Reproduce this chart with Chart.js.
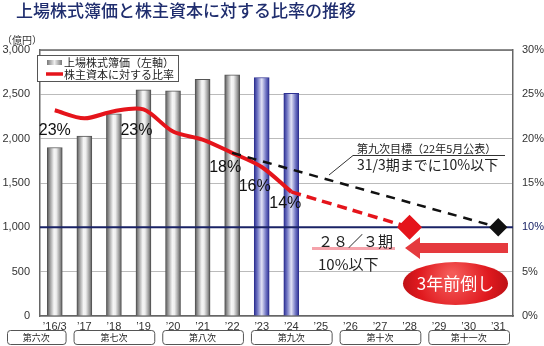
<!DOCTYPE html>
<html><head><meta charset="utf-8">
<script src="https://cdn.jsdelivr.net/npm/chart.js@4/dist/chart.umd.min.js"></script>
<style>html,body{margin:0;padding:0;background:#fff;}#wrap{width:544px;height:346px;position:relative;}</style>
</head><body><div id="wrap"><canvas id="c" width="544" height="346"></canvas></div>
<script>
// ---- data ----
const chartTitle = '上場株式簿価と株主資本に対する比率の推移';
const categories = ['’16/3','’17','’18','’19','’20','’21','’22','’23','’24','’25','’26','’27','’28','’29','’30','’31'];
const bookValue = [1900,2030,2280,2550,2540,2670,2720,2690,2510,null,null,null,null,null,null,null];
const ratioActual = [23.2,22.3,23.1,23.3,20.8,19.9,18.4,16.8,14.0,null,null,null,null,null,null,null];
const ratioNewPlan = [null,null,null,null,null,null,null,null,14.0,null,null,null,10.0,null,null,null];
const ratioOldTarget = [null,null,null,null,null,null,18.4,null,null,null,null,null,null,null,null,10.0];
const targetLevel = 10;
const highlightCategories = ['’23','’24'];
const ratioLabelIdx = [0,3,6,7,8];
const ratioLabelText = ['23%','23%','18%','16%','14%'];
const phaseNames = ['第六次','第七次','第八次','第九次','第十次','第十一次'];
const phaseStart = [0,1,4,7,10,13];
const phaseEnd = [0,3,6,9,12,15];
const legendBar = '上場株式簿価（左軸）';
const legendLine = '株主資本に対する比率';
const leftUnit = '（億円）';
const oldTargetTitle = '第九次目標（22年5月公表）';
const oldTargetText = '31/3期までに10%以下';
const newTargetTitle = '２８／３期';
const newTargetText = '10%以下';
const aheadText = '3年前倒し';

const JP = "'Noto Sans CJK JP'";
const LAT = "'Liberation Sans'";
const lastIdx = arr => arr.reduce((a,v,i)=> v!=null ? i : a, -1);

function barFill(c){
  const chart = c.chart, xs = chart.scales.x;
  const hi = highlightCategories.includes(categories[c.dataIndex]);
  if(!xs || !chart.chartArea) return hi ? '#6a6fbf' : '#aaa';
  const x = xs.getPixelForValue(c.dataIndex);
  const g = chart.ctx.createLinearGradient(x-7.5,0,x+7.5,0);
  if(hi){
    g.addColorStop(0,'#2e3192'); g.addColorStop(0.2,'#6a6fc0');
    g.addColorStop(0.5,'#e2e3f6'); g.addColorStop(0.8,'#6a6fc0'); g.addColorStop(1,'#2e3192');
  } else {
    g.addColorStop(0,'#555'); g.addColorStop(0.18,'#9a9a9a');
    g.addColorStop(0.45,'#f6f6f6'); g.addColorStop(0.6,'#eeeeee');
    g.addColorStop(0.85,'#999'); g.addColorStop(1,'#555');
  }
  return g;
}

const decor = {
  id:'decor',
  afterDatasetDraw(chart,args){
    if(args.index!==0) return;
    const {ctx, chartArea:a} = chart;
    const y = chart.scales.y1.getPixelForValue(targetLevel);
    ctx.save(); ctx.strokeStyle='#1a2366'; ctx.lineWidth=2;
    ctx.beginPath(); ctx.moveTo(a.left,y); ctx.lineTo(a.right,y); ctx.stroke(); ctx.restore();
  },
  afterDraw(chart){
    const {ctx, chartArea:a} = chart;
    const xs = chart.scales.x, y1 = chart.scales.y1;
    ctx.save();
    // top border
    ctx.strokeStyle='#666'; ctx.lineWidth=1.5;
    ctx.beginPath(); ctx.moveTo(a.left,a.top); ctx.lineTo(a.right,a.top); ctx.stroke();
    // title
    ctx.fillStyle='#1f2d6e'; ctx.font="500 17px "+JP; ctx.textBaseline='middle'; ctx.textAlign='left';
    ctx.fillText(chartTitle,16,11);
    // unit
    ctx.fillStyle='#333'; ctx.font="10px "+JP; ctx.fillText(leftUnit,2,40);
    // legend
    ctx.fillStyle='#fff'; ctx.fillRect(37,55,141,26);
    ctx.strokeStyle='#555'; ctx.lineWidth=1; ctx.strokeRect(37.5,55.5,141,26);
    const lg = ctx.createLinearGradient(47,0,62,0);
    lg.addColorStop(0,'#777'); lg.addColorStop(0.5,'#eee'); lg.addColorStop(1,'#777');
    ctx.fillStyle=lg; ctx.fillRect(47,60,15,5);
    ctx.strokeStyle='#e5141b'; ctx.lineWidth=3.5;
    ctx.beginPath(); ctx.moveTo(46,74); ctx.lineTo(63,74); ctx.stroke();
    ctx.fillStyle='#222'; ctx.font="11px "+JP;
    ctx.fillText(legendBar,64,62.5); ctx.fillText(legendLine,64,74.5);
    // ratio labels
    ctx.font="16px "+LAT; ctx.fillStyle='#111'; ctx.textAlign='center';
    const offs=[[0,20],[-7,21],[-7,15],[-7,20],[-6,12]];
    ratioLabelIdx.forEach((i,k)=>{
      const x = xs.getPixelForValue(i), y = y1.getPixelForValue(ratioActual[i]);
      ctx.fillText(ratioLabelText[k], x+offs[k][0], y+offs[k][1]);
    });
    // old target callout
    ctx.textAlign='left'; ctx.strokeStyle='#333'; ctx.lineWidth=1;
    ctx.beginPath(); ctx.moveTo(329,175); ctx.lineTo(353,155.5); ctx.lineTo(505,155.5); ctx.stroke();
    ctx.fillStyle='#222'; ctx.font="11px "+JP; ctx.fillText(oldTargetTitle,357,149);
    ctx.font="14px "+JP; ctx.fillText(oldTargetText,357,164.5);
    // new target callout
    ctx.strokeStyle='#f5a3ab'; ctx.lineWidth=3;
    ctx.beginPath(); ctx.moveTo(312,248.5); ctx.lineTo(395,248.5); ctx.stroke();
    ctx.fillStyle='#222'; ctx.font="15px "+JP;
    ctx.fillText(newTargetTitle,318,241);
    ctx.fillText(newTargetText,318,264);
    // arrow
    ctx.fillStyle='#e53a3e';
    ctx.beginPath(); ctx.moveTo(405,248); ctx.lineTo(420,237); ctx.lineTo(420,243); ctx.lineTo(508,243);
    ctx.lineTo(508,253); ctx.lineTo(420,253); ctx.lineTo(420,259); ctx.closePath(); ctx.fill();
    // ellipse
    const rg = ctx.createRadialGradient(452,276,4,455,284,56);
    rg.addColorStop(0,'#f45a58'); rg.addColorStop(0.6,'#e01a1f'); rg.addColorStop(1,'#b80f14');
    ctx.fillStyle=rg; ctx.beginPath(); ctx.ellipse(455.5,283.5,52.5,21.5,0,0,Math.PI*2); ctx.fill();
    ctx.fillStyle='#fff'; ctx.font="17px "+JP; ctx.textAlign='center';
    ctx.fillText(aheadText,455.5,284);
    // phase boxes
    const step = xs.getPixelForValue(1)-xs.getPixelForValue(0);
    ctx.font="9px "+JP;
    phaseNames.forEach((n,k)=>{
      let l = xs.getPixelForValue(phaseStart[k]) - step/2 + 4;
      const r = xs.getPixelForValue(phaseEnd[k]) + step/2 - 4;
      if(phaseStart[k]===0) l = 7;
      ctx.fillStyle='#fff'; ctx.strokeStyle='#555'; ctx.lineWidth=1;
      ctx.beginPath(); ctx.roundRect(l+0.5,330.5,r-l,14,3); ctx.fill(); ctx.stroke();
      ctx.fillStyle='#222'; ctx.fillText(n,(l+r)/2,338);
    });
    ctx.restore();
  }
};

new Chart(document.getElementById('c'), {
  data:{
    labels: categories,
    datasets:[
      {type:'bar', label:legendBar, data:bookValue, yAxisID:'y', order:10, barThickness:15,
       backgroundColor:barFill,
       borderColor:c=> highlightCategories.includes(categories[c.dataIndex]) ? '#2e3192' : '#555',
       borderWidth:1},
      {type:'line', label:legendLine, data:ratioActual, yAxisID:'y1', order:3,
       borderColor:'#e5141b', borderWidth:4, tension:0.3, pointRadius:0, fill:false},
      {type:'line', data:ratioNewPlan, yAxisID:'y1', order:2, spanGaps:true,
       borderColor:'#e5141b', borderWidth:3.5, borderDash:[10,6],
       pointStyle:'rectRot', pointRadius:c=> c.dataIndex===lastIdx(ratioNewPlan) ? 10 : 0,
       pointBackgroundColor:'#e5141b', pointBorderColor:'#e5141b', fill:false},
      {type:'line', data:ratioOldTarget, yAxisID:'y1', order:1, spanGaps:true,
       borderColor:'#111', borderWidth:2.5, borderDash:[9,7],
       pointStyle:'rectRot', pointRadius:c=> c.dataIndex===lastIdx(ratioOldTarget) ? 7.5 : 0,
       pointBackgroundColor:'#111', pointBorderColor:'#111', fill:false}
    ]
  },
  options:{
    responsive:false, animation:false,
    layout:{padding:{top:50,left:0,right:0,bottom:0}},
    plugins:{legend:{display:false}, tooltip:{enabled:false}, title:{display:false}},
    scales:{
      x:{grid:{display:false,drawTicks:false}, border:{color:'#666',width:1.5},
         ticks:{autoSkip:false,maxRotation:0,padding:4,color:'#333',font:{family:'Liberation Sans',size:11}},
         afterFit:s=>{s.height=30;}},
      y:{position:'left',min:0,max:3000,
         ticks:{stepSize:500,padding:10,color:'#333',font:{family:'Liberation Sans',size:11},
                callback:v=>v.toLocaleString('en-US')},
         grid:{color:'#bbb',drawTicks:false,lineWidth:1}, border:{color:'#666',width:1.5},
         afterFit:s=>{s.width=40;}},
      y1:{position:'right',min:0,max:30,
         ticks:{stepSize:5,padding:9,font:{family:'Liberation Sans',size:11},
                color:c=> c.tick && c.tick.value===targetLevel ? '#1a2366' : '#333',
                callback:v=>v+'%'},
         grid:{display:false,drawTicks:false}, border:{color:'#666',width:1.5},
         afterFit:s=>{s.width=31;}}
    }
  },
  plugins:[decor]
});
</script></body></html>
